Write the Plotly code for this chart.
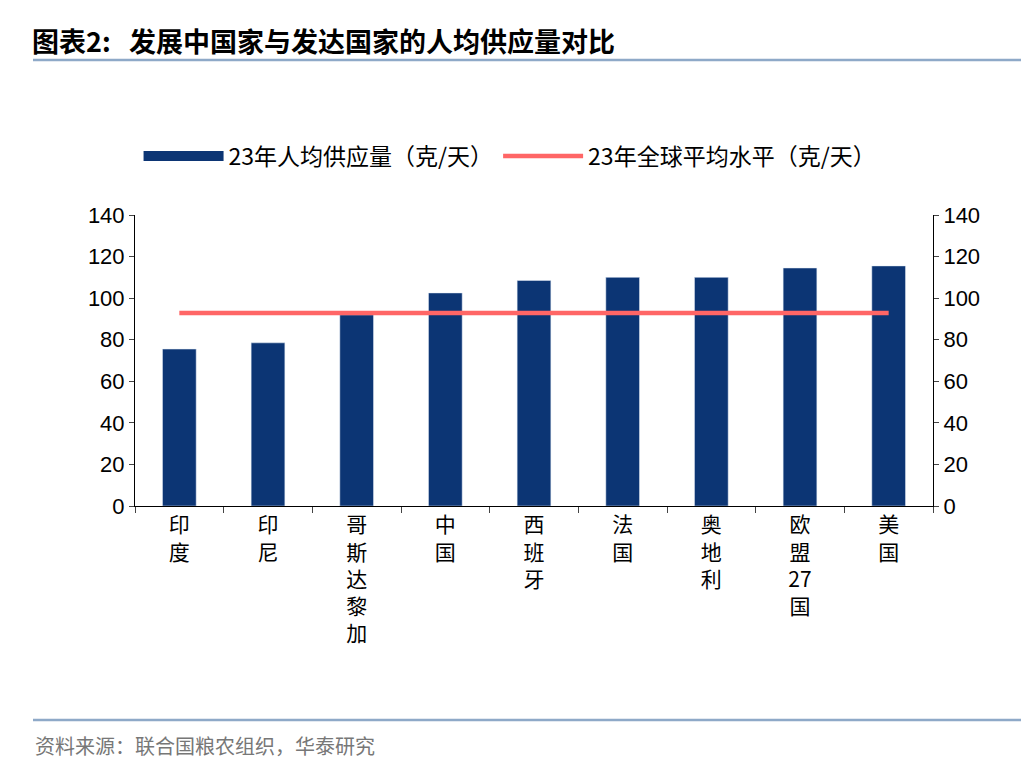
import plotly.graph_objects as go

categories = ["印度", "印尼", "哥斯达黎加", "中国", "西班牙", "法国", "奥地利", "欧盟27国", "美国"]
supply = [75.5, 78.5, 92, 102.5, 108.5, 110, 110, 114.5, 115.5]
world_avg = [92.8] * len(categories)
yticks = [0, 20, 40, 60, 80, 100, 120, 140]

def vert(s):
    parts, buf = [], ""
    for ch in s:
        if ch.isdigit():
            buf += ch
        else:
            if buf:
                parts.append(buf); buf = ""
            parts.append(ch)
    if buf:
        parts.append(buf)
    return "<br>".join(parts)

ticktext = [vert(c) for c in categories]
font = "Noto Sans CJK SC, Arial"

fig = go.Figure()
fig.add_trace(go.Bar(x=categories, y=supply, name="23年人均供应量（克/天）",
                     marker_color="#0C3574", width=0.38, showlegend=False))
fig.add_trace(go.Scatter(x=[None], y=[None], name="23年人均供应量（克/天）",
                         mode="lines", line=dict(color="#0C3574", width=14)))
fig.add_trace(go.Scatter(x=categories, y=world_avg, name="23年全球平均水平（克/天）",
                         mode="lines", line=dict(color="#FF6666", width=4.5)))
fig.add_trace(go.Scatter(x=categories, y=supply, yaxis="y2", mode="markers",
                         marker=dict(opacity=0), showlegend=False, hoverinfo="skip"))

axis_y = dict(range=[0, 140], tickvals=yticks, ticks="outside", ticklen=5, automargin=False,
              showline=True, linecolor="black", linewidth=1, showgrid=False,
              tickfont=dict(size=22, family="Arial", color="black"), zeroline=False)
fig.update_layout(
    width=1036, height=760, plot_bgcolor="white", paper_bgcolor="white",
    margin=dict(l=127, r=111, t=207, b=262, autoexpand=False),
    font=dict(family=font, color="black"),
    xaxis=dict(tickmode="array", tickvals=list(range(len(categories))), ticktext=ticktext,
               showline=True, linecolor="black", ticks="outside", ticklen=6, tickson="boundaries",
               automargin=False,
               tickfont=dict(size=21, family=font, color="black"), range=[-0.5, 8.5]),
    yaxis=axis_y,
    yaxis2=dict(axis_y, overlaying="y", side="right"),
    bargap=0.6,
    legend=dict(orientation="h", x=0.47, xanchor="center", y=1 + (207 - 148) / 291, yanchor="middle",
                font=dict(size=23, family=font), itemwidth=80, traceorder="normal"),
    showlegend=True,
)
fig.update_xaxes(categoryorder="array", categoryarray=categories)
fig.add_annotation(text="<b>图表2:   发展中国家与发达国家的人均供应量对比</b>", xref="paper", yref="paper",
                   x=-105/798, y=1 + (207 - 33) / 291, xanchor="left", yanchor="middle",
                   showarrow=False, font=dict(size=27, family=font, color="black"))
fig.add_annotation(text="资料来源：联合国粮农组织，华泰研究", xref="paper", yref="paper",
                   x=-102/798, y=-(737 - 498) / 291, xanchor="left", yanchor="middle",
                   showarrow=False, font=dict(size=20, family=font, color="#777777"))
fig.add_shape(type="line", xref="paper", yref="paper", x0=-102/798, x1=1 + 88/798,
              y0=1 + (207 - 52) / 291, y1=1 + (207 - 52) / 291, line=dict(color="#8EA9C8", width=2.5))
fig.add_shape(type="line", xref="paper", yref="paper", x0=-102/798, x1=1 + 88/798,
              y0=-(712 - 498) / 291, y1=-(712 - 498) / 291, line=dict(color="#8EA9C8", width=2.5))
fig.write_html("out.html")
